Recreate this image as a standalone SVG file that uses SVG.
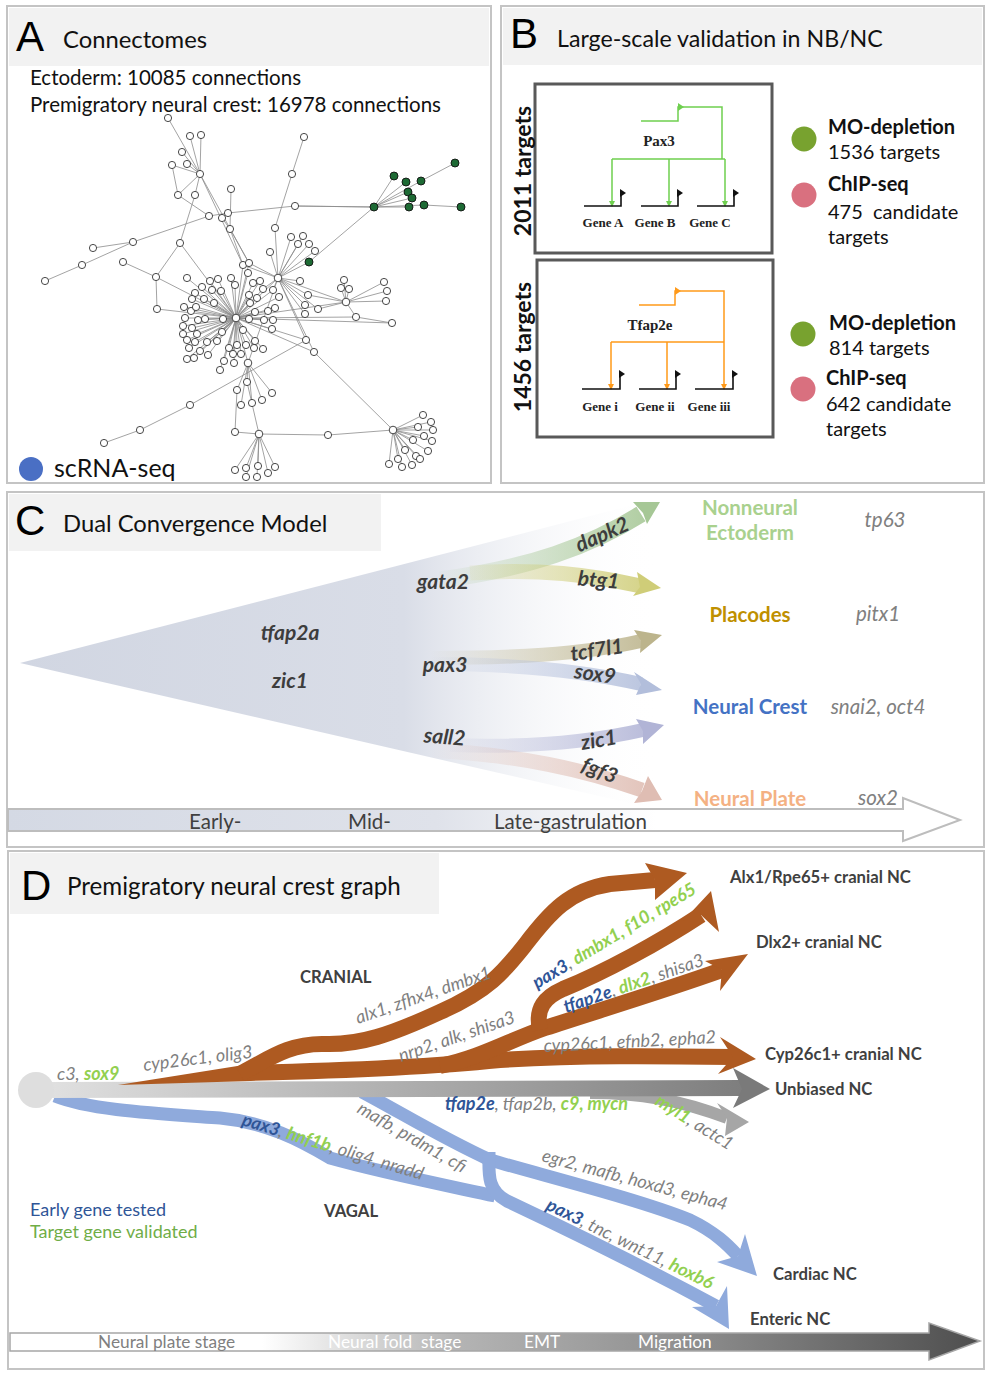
<svg xmlns="http://www.w3.org/2000/svg" width="986" height="1376" viewBox="0 0 986 1376">
<style>
.pf{fill:none;stroke:#c4c4c4;stroke-width:2}
.hd{fill:#f2f2f2}
.big{font-family:'Liberation Sans',Arial,sans-serif;font-size:42px;fill:#000}
.ttl{font-family:Lato,'Open Sans',sans-serif;font-size:23.8px;fill:#111}
.sa{font-family:Lato,'Open Sans',sans-serif;font-size:20.5px;fill:#111}
.ed{stroke:#8c8c8c;stroke-width:0.8;fill:none}
.nd{fill:#fff;stroke:#333;stroke-width:0.9}
.gn{fill:#1d6a34;stroke:#111;stroke-width:0.9}
.bt{font-family:Lato,'Open Sans',sans-serif;font-size:20px;fill:#111}
.bb{font-family:Lato,'Open Sans',sans-serif;font-size:20px;font-weight:bold;fill:#111}
.vt{font-family:Lato,'Open Sans',sans-serif;font-size:23px;font-weight:bold;fill:#111}
.ser{font-family:'Liberation Serif','Times New Roman',serif;font-weight:bold;fill:#222}
.gl{stroke:#111;stroke-width:1.6;fill:none}
.gr{stroke:#6fcf4f;stroke-width:1.5;fill:none}
.or{stroke:#ff9a1a;stroke-width:1.5;fill:none}
.cg{font-family:Lato,'Open Sans',sans-serif;font-size:21px;font-weight:bold;font-style:italic;fill:#3d3d3d}
.cl{font-family:Lato,'Open Sans',sans-serif;font-size:20.5px;font-weight:bold;text-anchor:middle}
.ci{font-family:Lato,'Open Sans',sans-serif;font-size:20.5px;font-style:italic;fill:#808080;text-anchor:middle}
.tl{font-family:Lato,'Open Sans',sans-serif;font-size:20.5px;fill:#404040}
.di{font-family:Lato,'Open Sans',sans-serif;font-size:18px;font-style:italic;fill:#7f7f7f}
.bl{fill:#2f5597;font-weight:bold}
.gg{fill:#92d050;font-weight:bold}
.nl{font-family:Lato,'Open Sans',sans-serif;font-size:16.7px;font-weight:bold;fill:#404040}
.sl{font-family:Lato,'Open Sans',sans-serif;font-size:17.3px}
.br{fill:none;stroke:#ae5a21;stroke-width:16}
.bu{fill:none;stroke:#8faadc;stroke-width:13}
</style>
<defs>
<linearGradient id="tri" gradientUnits="userSpaceOnUse" x1="20" y1="0" x2="660" y2="0">
<stop offset="0" stop-color="#d1d6e2"/><stop offset="0.6" stop-color="#d9dde7"/><stop offset="1" stop-color="#ffffff" stop-opacity="0"/>
</linearGradient>
<linearGradient id="tlC" gradientUnits="userSpaceOnUse" x1="8" y1="0" x2="960" y2="0">
<stop offset="0" stop-color="#d4d9e4"/><stop offset="0.45" stop-color="#dfe2ea"/><stop offset="0.68" stop-color="#ffffff"/><stop offset="1" stop-color="#ffffff"/>
</linearGradient>
<linearGradient id="tlD" gradientUnits="userSpaceOnUse" x1="10" y1="0" x2="980" y2="0">
<stop offset="0" stop-color="#ffffff"/><stop offset="0.26" stop-color="#ffffff"/><stop offset="0.46" stop-color="#b4b4b4"/><stop offset="0.7" stop-color="#8e8e8e"/><stop offset="1" stop-color="#4e4e4e"/>
</linearGradient>
<linearGradient id="gtr" gradientUnits="userSpaceOnUse" x1="36" y1="0" x2="770" y2="0">
<stop offset="0" stop-color="#e2e2e2"/><stop offset="1" stop-color="#7a7a7a"/>
</linearGradient>
<linearGradient id="aG" gradientUnits="userSpaceOnUse" x1="430" y1="0" x2="662" y2="0"><stop offset="0" stop-color="#a6c796" stop-opacity="0"/><stop offset="1" stop-color="#a6c796" stop-opacity="0.95"/></linearGradient>
<linearGradient id="aY" gradientUnits="userSpaceOnUse" x1="440" y1="0" x2="662" y2="0"><stop offset="0" stop-color="#cfcd78" stop-opacity="0"/><stop offset="1" stop-color="#cfcd78" stop-opacity="0.95"/></linearGradient>
<linearGradient id="aK" gradientUnits="userSpaceOnUse" x1="430" y1="0" x2="662" y2="0"><stop offset="0" stop-color="#bcb48c" stop-opacity="0"/><stop offset="1" stop-color="#bcb48c" stop-opacity="0.95"/></linearGradient>
<linearGradient id="aB" gradientUnits="userSpaceOnUse" x1="430" y1="0" x2="662" y2="0"><stop offset="0" stop-color="#b2bedb" stop-opacity="0"/><stop offset="1" stop-color="#b2bedb" stop-opacity="0.95"/></linearGradient>
<linearGradient id="aL" gradientUnits="userSpaceOnUse" x1="440" y1="0" x2="662" y2="0"><stop offset="0" stop-color="#b1b4d6" stop-opacity="0"/><stop offset="1" stop-color="#b1b4d6" stop-opacity="0.95"/></linearGradient>
<linearGradient id="aP" gradientUnits="userSpaceOnUse" x1="430" y1="0" x2="662" y2="0"><stop offset="0" stop-color="#dfbdb3" stop-opacity="0"/><stop offset="1" stop-color="#dfbdb3" stop-opacity="0.95"/></linearGradient>
</defs>
<rect width="986" height="1376" fill="#fff"/>

<!-- Panel A -->
<g id="panelA">
<rect class="hd" x="9" y="8" width="480" height="58"/>
<rect class="pf" x="7" y="6" width="484" height="477"/>
<text class="big" x="16" y="51">A</text>
<text class="ttl" x="63" y="48">Connectomes</text>
<text class="sa" x="30" y="85">Ectoderm: 10085 connections</text>
<text class="sa" x="30" y="112">Premigratory neural crest: 16978 connections</text>
<g id="network">
<path class="ed" d="M236 318L187 278M236 318L195 293M236 318L202 287M236 318L210 281M236 318L218 279M236 318L212 290M236 318L221 291M236 318L231 278M236 318L235 285M236 318L192 299M236 318L204 299M236 318L214 303M236 318L184 307M236 318L191 311M236 318L196 307M236 318L223 319M236 318L185 318M236 318L198 320M236 318L205 319M236 318L183 326M236 318L192 328M236 318L183 334M236 318L197 334M236 318L222 332M236 318L187 340M236 318L195 342M236 318L207 342M236 318L217 341M236 318L189 348M236 318L200 351M236 318L187 359M236 318L194 358M236 318L208 355M236 318L229 348M236 318L233 354M236 318L237 345M236 318L246 345M236 318L254 348M236 318L255 341M236 318L263 349M236 318L241 354M236 318L224 361M236 318L234 363M236 318L220 370M236 318L243 330M236 318L249 319M236 318L255 312M236 318L250 303M236 318L257 298M236 318L249 295M236 318L253 283M236 318L260 281M236 318L264 320M236 318L268 311M236 318L273 320M236 318L272 329M236 318L275 308M236 318L279 297M236 318L273 290M236 318L263 289M236 318L248 273M236 318L243 265M236 318L249 263M236 318L156 277M236 318L157 309M236 318L180 243M236 318L278 278M236 318L346 302M236 318L392 323M236 318L356 317M236 318L314 352M236 318L248 363M236 318L306 340"/>
<path class="ed" d="M278 278L243 265M278 278L249 263M278 278L270 252M278 278L291 237M278 278L303 236M278 278L298 244M278 278L309 244M278 278L315 251M278 278L309 262M278 278L300 281M278 278L308 295M278 278L305 305M278 278L305 314M278 278L318 309M278 278L275 228M278 278L306 340M278 278L346 302M278 278L263 289M278 278L273 290M278 278L248 363M346 302L344 280M346 302L341 288M346 302L349 289M346 302L384 282M346 302L387 291M346 302L386 301M346 302L356 317M346 302L318 309M346 302L308 295M356 317L392 323M374 207L394 176M374 207L406 182M374 207L421 181M374 207L408 192M374 207L412 198M374 207L409 207M374 207L424 205M374 207L309 262M374 207L295 206M424 205L461 207M421 181L455 163M168 118L200 174M190 136L200 174M201 135L200 174M182 152L200 174M172 165L200 174M187 164L200 174M178 195L200 174M195 195L200 174M200 174L243 265M200 174L249 263M178 195L209 216M195 195L180 243M172 165L178 195M231 189L230 229M222 218L230 229M230 229L243 265M230 229L249 263M133 242L209 216M209 216L228 213M228 213L295 206M295 206L374 207M304 137L292 174M292 174L275 228M93 248L133 242M82 265L133 242M45 281L82 265M123 262L156 277M156 277L157 309M180 243L156 277M306 340L190 405M190 405L140 430M140 430L104 443M314 352L393 430M393 430L328 435M328 435L259 434M248 363L247 382M248 363L237 390M248 363L262 400M248 363L272 393M248 363L252 403M248 363L241 405M247 382L259 434M237 390L235 432M235 432L259 434M259 434L235 470M259 434L246 468M259 434L246 477M259 434L258 466M259 434L257 477M259 434L268 473M259 434L275 467M393 430L423 415M393 430L431 422M393 430L418 427M393 430L433 430M393 430L424 436M393 430L432 441M393 430L413 440M393 430L428 451M393 430L405 450M393 430L416 456M393 430L420 459M393 430L398 459M393 430L389 464M393 430L402 467M393 430L412 465M278 278L314 352"/>
<g>
<circle class="nd" cx="187" cy="278" r="3.6"/><circle class="nd" cx="195" cy="293" r="3.6"/><circle class="nd" cx="202" cy="287" r="3.6"/><circle class="nd" cx="210" cy="281" r="3.6"/><circle class="nd" cx="218" cy="279" r="3.6"/><circle class="nd" cx="212" cy="290" r="3.6"/><circle class="nd" cx="221" cy="291" r="3.6"/><circle class="nd" cx="231" cy="278" r="3.6"/><circle class="nd" cx="235" cy="285" r="3.6"/><circle class="nd" cx="192" cy="299" r="3.6"/><circle class="nd" cx="204" cy="299" r="3.6"/><circle class="nd" cx="214" cy="303" r="3.6"/><circle class="nd" cx="184" cy="307" r="3.6"/><circle class="nd" cx="191" cy="311" r="3.6"/><circle class="nd" cx="196" cy="307" r="3.6"/><circle class="nd" cx="223" cy="319" r="3.6"/><circle class="nd" cx="185" cy="318" r="3.6"/><circle class="nd" cx="198" cy="320" r="3.6"/><circle class="nd" cx="205" cy="319" r="3.6"/><circle class="nd" cx="183" cy="326" r="3.6"/><circle class="nd" cx="192" cy="328" r="3.6"/><circle class="nd" cx="183" cy="334" r="3.6"/><circle class="nd" cx="197" cy="334" r="3.6"/><circle class="nd" cx="222" cy="332" r="3.6"/><circle class="nd" cx="187" cy="340" r="3.6"/><circle class="nd" cx="195" cy="342" r="3.6"/><circle class="nd" cx="207" cy="342" r="3.6"/><circle class="nd" cx="217" cy="341" r="3.6"/><circle class="nd" cx="189" cy="348" r="3.6"/><circle class="nd" cx="200" cy="351" r="3.6"/><circle class="nd" cx="187" cy="359" r="3.6"/><circle class="nd" cx="194" cy="358" r="3.6"/><circle class="nd" cx="208" cy="355" r="3.6"/><circle class="nd" cx="229" cy="348" r="3.6"/><circle class="nd" cx="233" cy="354" r="3.6"/><circle class="nd" cx="237" cy="345" r="3.6"/><circle class="nd" cx="246" cy="345" r="3.6"/><circle class="nd" cx="254" cy="348" r="3.6"/><circle class="nd" cx="255" cy="341" r="3.6"/><circle class="nd" cx="263" cy="349" r="3.6"/><circle class="nd" cx="241" cy="354" r="3.6"/><circle class="nd" cx="224" cy="361" r="3.6"/><circle class="nd" cx="234" cy="363" r="3.6"/><circle class="nd" cx="220" cy="370" r="3.6"/><circle class="nd" cx="243" cy="330" r="3.6"/><circle class="nd" cx="249" cy="319" r="3.6"/><circle class="nd" cx="255" cy="312" r="3.6"/><circle class="nd" cx="250" cy="303" r="3.6"/><circle class="nd" cx="257" cy="298" r="3.6"/><circle class="nd" cx="249" cy="295" r="3.6"/><circle class="nd" cx="253" cy="283" r="3.6"/><circle class="nd" cx="260" cy="281" r="3.6"/><circle class="nd" cx="264" cy="320" r="3.6"/><circle class="nd" cx="268" cy="311" r="3.6"/><circle class="nd" cx="273" cy="320" r="3.6"/><circle class="nd" cx="272" cy="329" r="3.6"/><circle class="nd" cx="275" cy="308" r="3.6"/><circle class="nd" cx="279" cy="297" r="3.6"/><circle class="nd" cx="273" cy="290" r="3.6"/><circle class="nd" cx="263" cy="289" r="3.6"/>
<circle class="nd" cx="236" cy="318" r="3.8"/><circle class="nd" cx="278" cy="278" r="3.8"/><circle class="nd" cx="346" cy="302" r="3.8"/><circle class="nd" cx="248" cy="363" r="3.8"/><circle class="nd" cx="259" cy="434" r="3.8"/><circle class="nd" cx="393" cy="430" r="3.8"/>
<circle class="nd" cx="248" cy="273" r="3.6"/><circle class="nd" cx="243" cy="265" r="3.6"/><circle class="nd" cx="249" cy="263" r="3.6"/><circle class="nd" cx="270" cy="252" r="3.6"/><circle class="nd" cx="291" cy="237" r="3.6"/><circle class="nd" cx="303" cy="236" r="3.6"/><circle class="nd" cx="298" cy="244" r="3.6"/><circle class="nd" cx="309" cy="244" r="3.6"/><circle class="nd" cx="315" cy="251" r="3.6"/><circle class="nd" cx="300" cy="281" r="3.6"/><circle class="nd" cx="308" cy="295" r="3.6"/><circle class="nd" cx="305" cy="305" r="3.6"/><circle class="nd" cx="305" cy="314" r="3.6"/><circle class="nd" cx="318" cy="309" r="3.6"/><circle class="nd" cx="275" cy="228" r="3.6"/><circle class="nd" cx="306" cy="340" r="3.6"/><circle class="nd" cx="314" cy="352" r="3.6"/>
<circle class="nd" cx="344" cy="280" r="3.6"/><circle class="nd" cx="341" cy="288" r="3.6"/><circle class="nd" cx="349" cy="289" r="3.6"/><circle class="nd" cx="384" cy="282" r="3.6"/><circle class="nd" cx="387" cy="291" r="3.6"/><circle class="nd" cx="386" cy="301" r="3.6"/><circle class="nd" cx="356" cy="317" r="3.6"/><circle class="nd" cx="392" cy="323" r="3.6"/>
<circle class="nd" cx="168" cy="118" r="3.6"/><circle class="nd" cx="190" cy="136" r="3.6"/><circle class="nd" cx="201" cy="135" r="3.6"/><circle class="nd" cx="182" cy="152" r="3.6"/><circle class="nd" cx="172" cy="165" r="3.6"/><circle class="nd" cx="187" cy="164" r="3.6"/><circle class="nd" cx="200" cy="174" r="3.6"/><circle class="nd" cx="178" cy="195" r="3.6"/><circle class="nd" cx="195" cy="195" r="3.6"/><circle class="nd" cx="209" cy="216" r="3.6"/><circle class="nd" cx="222" cy="218" r="3.6"/><circle class="nd" cx="228" cy="213" r="3.6"/><circle class="nd" cx="231" cy="189" r="3.6"/><circle class="nd" cx="230" cy="229" r="3.6"/><circle class="nd" cx="304" cy="137" r="3.6"/><circle class="nd" cx="292" cy="174" r="3.6"/><circle class="nd" cx="295" cy="206" r="3.6"/><circle class="nd" cx="133" cy="242" r="3.6"/><circle class="nd" cx="93" cy="248" r="3.6"/><circle class="nd" cx="82" cy="265" r="3.6"/><circle class="nd" cx="45" cy="281" r="3.6"/><circle class="nd" cx="123" cy="262" r="3.6"/><circle class="nd" cx="180" cy="243" r="3.6"/><circle class="nd" cx="156" cy="277" r="3.6"/><circle class="nd" cx="157" cy="309" r="3.6"/>
<circle class="nd" cx="190" cy="405" r="3.6"/><circle class="nd" cx="140" cy="430" r="3.6"/><circle class="nd" cx="104" cy="443" r="3.6"/><circle class="nd" cx="328" cy="435" r="3.6"/><circle class="nd" cx="247" cy="382" r="3.6"/><circle class="nd" cx="237" cy="390" r="3.6"/><circle class="nd" cx="262" cy="400" r="3.6"/><circle class="nd" cx="272" cy="393" r="3.6"/><circle class="nd" cx="252" cy="403" r="3.6"/><circle class="nd" cx="241" cy="405" r="3.6"/><circle class="nd" cx="235" cy="432" r="3.6"/>
<circle class="nd" cx="235" cy="470" r="3.6"/><circle class="nd" cx="246" cy="468" r="3.6"/><circle class="nd" cx="246" cy="477" r="3.6"/><circle class="nd" cx="258" cy="466" r="3.6"/><circle class="nd" cx="257" cy="477" r="3.6"/><circle class="nd" cx="268" cy="473" r="3.6"/><circle class="nd" cx="275" cy="467" r="3.6"/>
<circle class="nd" cx="423" cy="415" r="3.6"/><circle class="nd" cx="431" cy="422" r="3.6"/><circle class="nd" cx="418" cy="427" r="3.6"/><circle class="nd" cx="433" cy="430" r="3.6"/><circle class="nd" cx="424" cy="436" r="3.6"/><circle class="nd" cx="432" cy="441" r="3.6"/><circle class="nd" cx="413" cy="440" r="3.6"/><circle class="nd" cx="428" cy="451" r="3.6"/><circle class="nd" cx="405" cy="450" r="3.6"/><circle class="nd" cx="416" cy="456" r="3.6"/><circle class="nd" cx="420" cy="459" r="3.6"/><circle class="nd" cx="398" cy="459" r="3.6"/><circle class="nd" cx="389" cy="464" r="3.6"/><circle class="nd" cx="402" cy="467" r="3.6"/><circle class="nd" cx="412" cy="465" r="3.6"/>
<circle class="gn" cx="309" cy="262" r="4"/><circle class="gn" cx="374" cy="207" r="4"/><circle class="gn" cx="394" cy="176" r="4"/><circle class="gn" cx="406" cy="182" r="4"/><circle class="gn" cx="421" cy="181" r="4"/><circle class="gn" cx="408" cy="192" r="4"/><circle class="gn" cx="412" cy="198" r="4"/><circle class="gn" cx="409" cy="207" r="4"/><circle class="gn" cx="424" cy="205" r="4"/><circle class="gn" cx="455" cy="163" r="4"/><circle class="gn" cx="461" cy="207" r="4"/>
</g>
</g>
<circle cx="31" cy="469" r="12" fill="#4a6fc4"/>
<text x="54" y="477" style="font-family:Lato,'Open Sans',sans-serif;font-size:25px;fill:#111">scRNA-seq</text>
</g>

<!-- Panel B -->
<g id="panelB">
<rect class="hd" x="503" y="8" width="479" height="57"/>
<rect class="pf" x="501" y="6" width="483" height="477"/>
<text class="big" x="510" y="48">B</text>
<text class="ttl" x="557" y="47" style="font-size:23.2px">Large-scale validation in NB/NC</text>
<g id="box-pax3">
<rect x="535" y="84" width="237" height="169" fill="none" stroke="#595959" stroke-width="3"/>
<text class="vt" transform="translate(531,171) rotate(-90)" text-anchor="middle">2011 targets</text>
<path class="gr" d="M641 121H678V107H722V159M612 159H725M612 159V203M669 159V203M725 159V203"/>
<path d="M678 103L684 107L678 111Z" fill="#6fcf4f"/>
<path d="M609 201L612 207L615 201ZM666 201L669 207L672 201ZM722 201L725 207L728 201Z" fill="#6fcf4f"/>
<path class="gl" d="M584 206H621V193M641 206H678V193M697 206H734V193"/>
<path d="M620 189L626 193L620 197ZM677 189L683 193L677 197ZM733 189L739 193L733 197Z" fill="#111"/>
<text class="ser" x="659" y="146" font-size="15" text-anchor="middle">Pax3</text>
<text class="ser" x="603" y="227" font-size="13" text-anchor="middle">Gene A</text>
<text class="ser" x="655" y="227" font-size="13" text-anchor="middle">Gene B</text>
<text class="ser" x="710" y="227" font-size="13" text-anchor="middle">Gene C</text>
</g>
<g id="box-tfap2e">
<rect x="537" y="260" width="236" height="177" fill="none" stroke="#595959" stroke-width="3"/>
<text class="vt" transform="translate(531,347) rotate(-90)" text-anchor="middle">1456 targets</text>
<path class="or" d="M639 305H675V291H724V342M611 342H724M611 342V386M667 342V386M724 342V386"/>
<path d="M675 287L681 291L675 295Z" fill="#ff9a1a"/>
<path d="M608 384L611 390L614 384ZM664 384L667 390L670 384ZM721 384L724 390L727 384Z" fill="#ff9a1a"/>
<path class="gl" d="M582 389H620V374M639 389H676V374M695 389H733V374"/>
<path d="M619 370L625 374L619 378ZM675 370L681 374L675 378ZM732 370L738 374L732 378Z" fill="#111"/>
<text class="ser" x="650" y="330" font-size="15" text-anchor="middle">Tfap2e</text>
<text class="ser" x="600" y="411" font-size="13" text-anchor="middle">Gene i</text>
<text class="ser" x="655" y="411" font-size="13" text-anchor="middle">Gene ii</text>
<text class="ser" x="709" y="411" font-size="13" text-anchor="middle">Gene iii</text>
</g>
<g id="legend-pax3">
<circle cx="804" cy="139" r="12.5" fill="#78a22f"/>
<circle cx="804" cy="195" r="12.5" fill="#d9707f"/>
<text class="bb" x="828" y="134">MO-depletion</text>
<text class="bt" x="828" y="159">1536 targets</text>
<text class="bb" x="828" y="191">ChIP-seq</text>
<text class="bt" x="828" y="219" xml:space="preserve">475  candidate</text>
<text class="bt" x="828" y="244">targets</text>
</g>
<g id="legend-tfap2e">
<circle cx="803" cy="334" r="12.5" fill="#78a22f"/>
<circle cx="803" cy="389" r="12.5" fill="#d9707f"/>
<text class="bb" x="829" y="330">MO-depletion</text>
<text class="bt" x="829" y="355">814 targets</text>
<text class="bb" x="826" y="385">ChIP-seq</text>
<text class="bt" x="826" y="411">642 candidate</text>
<text class="bt" x="826" y="436">targets</text>
</g>
</g>

<!-- Panel C -->
<g id="panelC">
<rect class="hd" x="9" y="494" width="372" height="57"/>
<rect class="pf" x="7" y="492" width="977" height="355"/>
<text class="big" x="15" y="535">C</text>
<text class="ttl" x="63" y="532">Dual Convergence Model</text>
<polygon points="20,663 660,498 660,810" fill="url(#tri)"/>
<polygon points="8,809 903,809 903,798 960,820 903,841 903,831 8,831" fill="url(#tlC)" stroke="#bdbdbd" stroke-width="2"/>
<text class="tl" x="189" y="829">Early-</text>
<text class="tl" x="348" y="829">Mid-</text>
<text class="tl" x="494" y="829">Late-gastrulation</text>
<g id="c-arrows">
<path d="M440 580C530 568 590 546 641 514" fill="none" stroke="url(#aG)" stroke-width="17"/>
<path d="M633 502L660 502L647 524L643 513Z" fill="#a6c796"/>
<path d="M470 573C540 568 590 575 641 586" fill="none" stroke="url(#aY)" stroke-width="15"/>
<path d="M637 572L661 588L633 596L640 587Z" fill="#cfcd78"/>
<path d="M430 658C510 658 580 655 641 641" fill="none" stroke="url(#aK)" stroke-width="14"/>
<path d="M634 630L662 635L640 653L641 641Z" fill="#bcb48c"/>
<path d="M430 664C510 664 580 670 641 684" fill="none" stroke="url(#aB)" stroke-width="14"/>
<path d="M634 672L662 690L636 695L641 684Z" fill="#b2bedb"/>
<path d="M450 745C530 748 590 742 643 730" fill="none" stroke="url(#aL)" stroke-width="14"/>
<path d="M636 719L664 725L643 744L643 731Z" fill="#b1b4d6"/>
<path d="M430 750C520 755 585 770 642 790" fill="none" stroke="url(#aP)" stroke-width="15"/>
<path d="M648 776L662 800L634 803L642 791Z" fill="#dfbdb3"/>
</g>
<text class="cg" x="290" y="640" text-anchor="middle">tfap2a</text>
<text class="cg" x="290" y="688" text-anchor="middle">zic1</text>
<text class="cg" x="443" y="589" text-anchor="middle">gata2</text>
<text class="cg" x="445" y="672" text-anchor="middle">pax3</text>
<text class="cg" transform="translate(444,744) rotate(5)" text-anchor="middle">sall2</text>
<text class="cg" transform="translate(605,541) rotate(-24)" text-anchor="middle">dapk2</text>
<text class="cg" transform="translate(598,587) rotate(5)" text-anchor="middle">btg1</text>
<text class="cg" transform="translate(598,657) rotate(-9)" text-anchor="middle">tcf7l1</text>
<text class="cg" transform="translate(594,681) rotate(8)" text-anchor="middle">sox9</text>
<text class="cg" transform="translate(600,747) rotate(-10)" text-anchor="middle">zic1</text>
<text class="cg" transform="translate(597,777) rotate(22)" text-anchor="middle">fgf3</text>
<text class="cl" x="750" y="515" fill="#a9d18e">Nonneural</text>
<text class="cl" x="750" y="540" fill="#a9d18e">Ectoderm</text>
<text class="cl" x="750" y="622" fill="#bf9000">Placodes</text>
<text class="cl" x="750" y="714" fill="#4472c4">Neural Crest</text>
<text class="cl" x="750" y="806" fill="#f4b183">Neural Plate</text>
<text class="ci" x="885" y="527">tp63</text>
<text class="ci" x="878" y="621">pitx1</text>
<text class="ci" x="878" y="714">snai2, oct4</text>
<text class="ci" x="878" y="805">sox2</text>
</g>

<!-- Panel D -->
<g id="panelD">
<rect class="hd" x="10" y="853" width="429" height="61"/>
<rect class="pf" x="8" y="851" width="976" height="518"/>
<text class="big" x="21" y="900">D</text>
<text class="ttl" x="67" y="895" style="font-size:24.2px">Premigratory neural crest graph</text>
<polygon points="10,1333 929,1333 929,1323 980,1341 929,1360 929,1351 10,1351" fill="url(#tlD)" stroke="#a6a6a6" stroke-width="1.5"/>
<text class="sl" x="98" y="1348" fill="#7f7f7f">Neural plate stage</text>
<text class="sl" x="328" y="1348" fill="#ffffff" xml:space="preserve">Neural fold  stage</text>
<text class="sl" x="524" y="1348" fill="#ffffff">EMT</text>
<text class="sl" x="638" y="1348" fill="#ffffff">Migration</text>
<g id="d-connectors">
<path class="bu" d="M55 1096C90 1110 150 1113 220 1118C265 1122 300 1140 330 1158C380 1172 430 1182 495 1196"/>
<path class="bu" d="M362 1092C400 1112 440 1137 490 1160C560 1180 640 1200 690 1220C715 1232 728 1245 738 1256"/>
<path class="bu" d="M489 1152C489 1172 486 1190 507 1201C560 1226 640 1265 716 1306"/>
<path d="M590 1093C640 1093 680 1100 727 1118" fill="none" stroke="#a6a6a6" stroke-width="12"/>
<path d="M45 1090L742 1088" fill="none" stroke="url(#gtr)" stroke-width="16"/>
<path d="M118 1085L250 1064L250 1081Z" fill="#ae5a21"/>
<path class="br" d="M245 1073C330 1071 420 1068 500 1060C580 1055 660 1056 733 1057"/>
<path class="br" d="M440 1066C480 1058 510 1040 545 1028C600 1010 660 992 722 970"/>
<path class="br" d="M540 1030C535 1008 545 997 563 989C605 972 660 942 701 915"/>
<path class="br" d="M240 1074C270 1058 290 1043 325 1044C360 1045 390 1035 440 1012C490 990 505 970 525 945C550 912 570 890 610 884L655 880"/>
<path d="M645 863L687 873L655 900L655 880Z" fill="#ae5a21"/>
<path d="M683 921L711 891L719 932L701 915Z" fill="#ae5a21"/>
<path d="M705 961L748 954L720 991L722 970Z" fill="#ae5a21"/>
<path d="M720 1037L756 1059L718 1074L733 1057Z" fill="#ae5a21"/>
<path d="M733 1068L770 1089L733 1108L742 1089Z" fill="#7a7a7a"/>
<path d="M717 1103L749 1122L725 1136L727 1118Z" fill="#a6a6a6"/>
<path d="M745 1234L757 1276L717 1262L738 1256Z" fill="#8faadc"/>
<path d="M727 1286L729 1329L692 1307L716 1306Z" fill="#8faadc"/>
</g>
<g id="start-node"><circle cx="36" cy="1090" r="18" fill="#dedede"/></g>
<g id="d-labels">
<text class="di" x="57" y="1080">c3, <tspan class="gg">sox9</tspan></text>
<text class="di" transform="translate(144,1071) rotate(-7)">cyp26c1, olig3</text>
<text class="di" transform="translate(358,1024) rotate(-19)">alx1, zfhx4, dmbx1</text>
<text class="di" transform="translate(401,1062) rotate(-19)">nrp2, alk, shisa3</text>
<text class="di" transform="translate(537,989) rotate(-31)"><tspan class="bl">pax3</tspan>, <tspan class="gg">dmbx1, f10, rpe65</tspan></text>
<text class="di" transform="translate(566,1013) rotate(-19)"><tspan class="bl">tfap2e</tspan>, <tspan class="gg">dlx2</tspan>, shisa3</text>
<text class="di" transform="translate(544,1052) rotate(-3)">cyp26c1, efnb2, epha2</text>
<text class="di" x="445" y="1110"><tspan class="bl">tfap2e</tspan>, tfap2b, <tspan class="gg">c9, mycn</tspan></text>
<text class="di" transform="translate(654,1104) rotate(32)"><tspan class="gg">myl1</tspan>, actc1</text>
<text class="di" transform="translate(356,1112) rotate(30)">mafb, prdm1, cfi</text>
<text class="di" transform="translate(241,1125) rotate(17)"><tspan class="bl">pax3</tspan>, <tspan class="gg">hnf1b</tspan>, olig4, nradd</text>
<text class="di" transform="translate(541,1161) rotate(15)">egr2, mafb, hoxd3, epha4</text>
<text class="di" transform="translate(545,1209) rotate(26)"><tspan class="bl">pax3</tspan>, tnc, wnt11, <tspan class="gg">hoxb6</tspan></text>
</g>
<g id="d-nodes">
<text class="nl" x="730" y="883">Alx1/Rpe65+ cranial NC</text>
<text class="nl" x="756" y="948">Dlx2+ cranial NC</text>
<text class="nl" x="765" y="1060">Cyp26c1+ cranial NC</text>
<text class="nl" x="775" y="1095">Unbiased NC</text>
<text class="nl" x="773" y="1280">Cardiac NC</text>
<text class="nl" x="750" y="1325">Enteric NC</text>
<text class="nl" x="300" y="983" font-size="15">CRANIAL</text>
<text class="nl" x="324" y="1217" font-size="15">VAGAL</text>
</g>
<text class="sl" x="30" y="1216" fill="#2f5597" style="font-size:18px">Early gene tested</text>
<text class="sl" x="30" y="1238" fill="#70ad47" style="font-size:18px">Target gene validated</text>
</g>
</svg>
